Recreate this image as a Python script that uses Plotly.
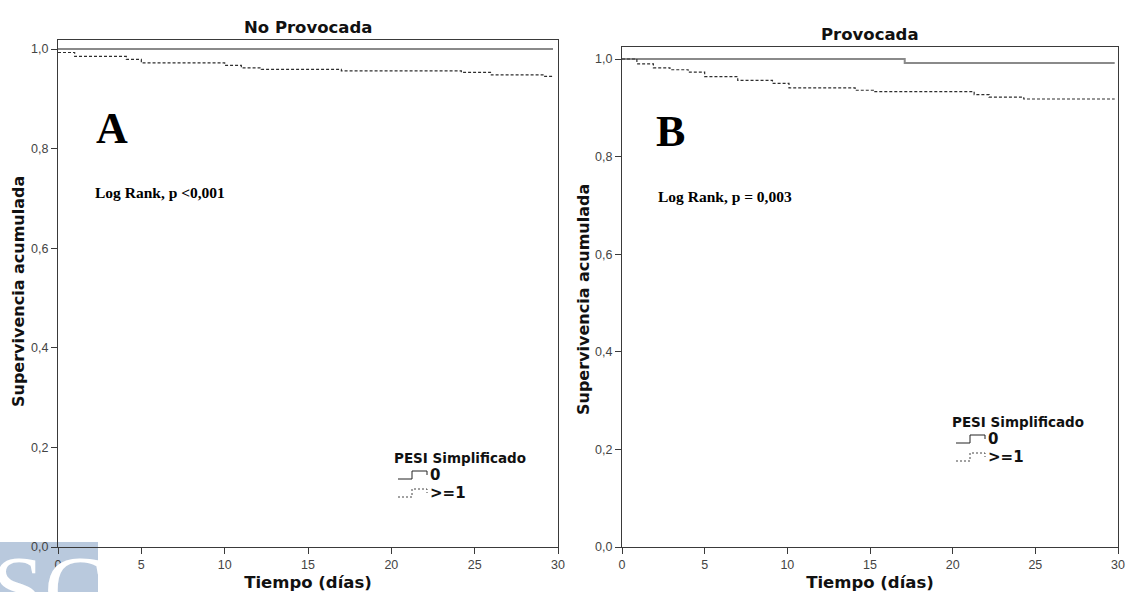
import plotly.graph_objects as go

W, H = 1126, 592

# ---------------- data ----------------
# Panel A: No Provocada
a_t0 = [0, 29.7]
a_s0 = [1.0, 1.0]
a_t1 = [0, 1.0, 4.1, 5.0, 10.0, 11.0, 12.2, 17.0, 24.2, 26.0, 29.1, 29.7]
a_s1 = [0.993, 0.985, 0.979, 0.972, 0.967, 0.962, 0.959, 0.956, 0.953, 0.948, 0.945, 0.945]

# Panel B: Provocada
b_t0 = [0, 17.1, 29.8]
b_s0 = [1.0, 0.992, 0.992]
b_t1 = [0, 0.9, 1.9, 2.9, 4.0, 5.0, 7.0, 9.1, 10.1, 14.1, 15.2, 21.3, 22.2, 24.3, 29.8]
b_s1 = [1.0, 0.990, 0.982, 0.978, 0.973, 0.964, 0.956, 0.950, 0.941, 0.936, 0.933, 0.927, 0.922, 0.918, 0.918]

x_ticks = [0, 5, 10, 15, 20, 25, 30]
y_ticks = [0.0, 0.2, 0.4, 0.6, 0.8, 1.0]
group_labels = ["0", ">=1"]
panel_titles = ["No Provocada", "Provocada"]
panel_letters = ["A", "B"]
logrank_texts = ["Log Rank, p <0,001", "Log Rank, p = 0,003"]
legend_title = "PESI Simplificado"
y_title = "Supervivencia acumulada"
x_title = "Tiempo (días)"

# ---------------- helpers ----------------
def px(x):
    return x / W

def py(y):
    return max(0.0, 1 - y / H)

SOLID_COLOR = "#8a8a8a"
DASH_COLOR = "#2e2e2e"
AXIS_COLOR = "#3a3a3a"
SANS = "DejaVu Sans"
SERIF = "Liberation Serif"

fig = go.Figure()

# panel geometry (pixels)
panels = [
    dict(l=58, r=558, t=40, b=547, one=49, xa="x", ya="y", xn="xaxis", yn="yaxis"),
    dict(l=622, r=1118, t=47, b=547, one=59, xa="x2", ya="y2", xn="xaxis2", yn="yaxis2"),
]

series = [
    (a_t0, a_s0, a_t1, a_s1),
    (b_t0, b_s0, b_t1, b_s1),
]

for p, (t0, s0, t1, s1) in zip(panels, series):
    fig.add_trace(go.Scatter(x=t0, y=s0, mode="lines", line_shape="hv",
                             line=dict(color=SOLID_COLOR, width=2),
                             xaxis=p["xa"], yaxis=p["ya"], showlegend=False,
                             name=group_labels[0]))
    fig.add_trace(go.Scatter(x=t1, y=s1, mode="lines", line_shape="hv",
                             line=dict(color=DASH_COLOR, width=1.2, dash="3px,2px"),
                             xaxis=p["xa"], yaxis=p["ya"], showlegend=False,
                             name=group_labels[1]))

layout = dict(
    width=W, height=H,
    margin=dict(l=0, r=0, t=0, b=0, autoexpand=False),
    paper_bgcolor="white", plot_bgcolor="white",
    separators=",.",
    showlegend=False,
)

for i, p in enumerate(panels):
    ymax = (p["b"] - p["t"]) / (p["b"] - p["one"])
    layout[p["xn"]] = dict(
        domain=[px(p["l"]), px(p["r"])], automargin=False,
        range=[0, 30], tickvals=x_ticks, ticks="outside", ticklen=6,
        tickcolor=AXIS_COLOR, showline=True, linecolor=AXIS_COLOR, linewidth=1.3,
        mirror=True, showgrid=False, zeroline=False,
        tickfont=dict(family="Liberation Sans", size=12.5, color="#444"),
        anchor=p["ya"],
        title=dict(text=x_title,
                   font=dict(family=SANS, size=16.5, color="#111", weight="bold")),
    )
    layout[p["yn"]] = dict(
        domain=[py(p["b"]), py(p["t"])], automargin=False,
        range=[0, ymax], tickvals=y_ticks, tickformat=".1f", ticks="outside", ticklen=6,
        tickcolor=AXIS_COLOR, showline=True, linecolor=AXIS_COLOR, linewidth=1.3,
        mirror=True, showgrid=False, zeroline=False,
        tickfont=dict(family="Liberation Sans", size=12.5, color="#444"),
        anchor=p["xa"],
    )

fig.update_layout(**layout)

annotations = []
# y-axis titles (rotated text)
for (x, y) in [(18, 292), (583, 300)]:
    annotations.append(dict(x=px(x), y=py(y), text="<b>" + y_title + "</b>", showarrow=False,
                            xref="paper", yref="paper", xanchor="center", yanchor="middle",
                            textangle=-90,
                            font=dict(family=SANS, size=16, color="#111")))
# titles
for txt, (x, y) in zip(panel_titles, [(308, 27), (870, 34)]):
    annotations.append(dict(x=px(x), y=py(y), text="<b>" + txt + "</b>", showarrow=False,
                            xref="paper", yref="paper", xanchor="center", yanchor="middle",
                            font=dict(family=SANS, size=16.5, color="#111")))
# letters
for txt, (x, y) in zip(panel_letters, [(94, 129), (654, 131)]):
    annotations.append(dict(x=px(x), y=py(y), text="<b>" + txt + "</b>", showarrow=False,
                            xref="paper", yref="paper", xanchor="left", yanchor="middle",
                            font=dict(family=SERIF, size=44, color="#000")))
# log rank
for txt, (x, y) in zip(logrank_texts, [(93, 193), (656, 196)]):
    annotations.append(dict(x=px(x), y=py(y), text="<b>" + txt + "</b>", showarrow=False,
                            xref="paper", yref="paper", xanchor="left", yanchor="middle",
                            font=dict(family=SERIF, size=15.5, color="#000")))

shapes = []
# legends
for (lx, ly) in [(392, 458), (950, 422)]:
    annotations.append(dict(x=px(lx), y=py(ly), text="<b>" + legend_title + "</b>", showarrow=False,
                            xref="paper", yref="paper", xanchor="left", yanchor="middle",
                            font=dict(family=SANS, size=13.5, color="#111")))
    for k, lab in enumerate(group_labels):
        iy = ly + 17 + k * 18
        annotations.append(dict(x=px(lx + 36), y=py(iy), text="<b>" + lab + "</b>", showarrow=False,
                                xref="paper", yref="paper", xanchor="left", yanchor="middle",
                                font=dict(family=SANS, size=15, color="#111")))
        x0 = lx + 6
        path = "M {} {} L {} {} L {} {} L {} {} L {} {}".format(
            px(x0), py(iy + 4), px(x0 + 14), py(iy + 4), px(x0 + 14), py(iy - 4),
            px(x0 + 29), py(iy - 4), px(x0 + 29), py(iy))
        shapes.append(dict(type="path", path=path, xref="paper", yref="paper",
                           line=dict(color="#222" if k == 0 else "#444", width=1,
                                     dash="solid" if k == 0 else "2px,2px")))

# watermark box
shapes.append(dict(type="rect", xref="paper", yref="paper", x0=0, x1=px(98),
                   y0=0, y1=py(542), fillcolor="#b9c9dd", line=dict(width=0), layer="below"))
annotations.append(dict(x=px(49), y=py(534), text="SC", showarrow=False,
                        xref="paper", yref="paper", xanchor="center", yanchor="top",
                        font=dict(family=SERIF, size=94, color="white")))

fig.update_layout(annotations=annotations, shapes=shapes)

post = (
    "var d=document.documentElement, b=document.body;"
    "d.style.margin='0';d.style.padding='0';d.style.overflow='hidden';"
    "b.style.margin='0';b.style.padding='0';b.style.overflow='hidden';"
)

fig.write_html("out.html", config={"displayModeBar": False}, post_script=post)
